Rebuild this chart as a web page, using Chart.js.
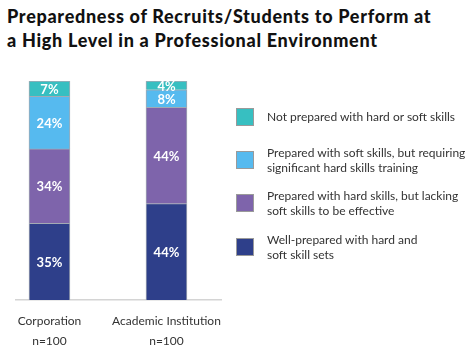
<!DOCTYPE html>
<html><head><meta charset="utf-8">
<script src="https://cdn.jsdelivr.net/npm/chart.js@4"></script>
<style>
html,body{margin:0;padding:0;background:#fff;}
#wrap{position:relative;width:474px;height:345px;overflow:hidden;}
#title{position:absolute;left:7px;top:4px;font-family:Lato,sans-serif;font-weight:900;font-size:18px;letter-spacing:0.7px;line-height:24px;color:#111;white-space:nowrap;}
#c{position:absolute;left:0;top:0;}
#legend{position:absolute;left:236px;top:95px;font-family:Lato,sans-serif;font-size:12px;line-height:15px;color:#333;}
.item{height:43.3px;display:flex;align-items:center;white-space:nowrap;}
.sw{width:18px;height:18px;border:1px solid #9a9a9a;box-sizing:border-box;margin-right:13px;flex:none;}
</style></head>
<body><div id="wrap">
<div id="title">Preparedness of Recruits/Students to Perform at<br>a High Level in a Professional Environment</div>
<canvas id="c" width="474" height="345"></canvas>
<div id="legend"></div>
</div>
<script>
const categories = [['Corporation', 'n=100'], ['Academic Institution', 'n=100']];
const seriesNames = [
  'Well-prepared with hard and\nsoft skill sets',
  'Prepared with hard skills, but lacking\nsoft skills to be effective',
  'Prepared with soft skills, but requiring\nsignificant hard skills training',
  'Not prepared with hard or soft skills'
];
const wellPrepared = [35, 44];
const hardOnly = [34, 44];
const softOnly = [24, 8];
const notPrepared = [7, 4];
const seriesColors = ['#2E3F8A', '#7E64AB', '#56BAEF', '#37BFC1'];

const seriesValues = [wellPrepared, hardOnly, softOnly, notPrepared];
const datasets = seriesValues.map((vals, s) => ({
  label: seriesNames[s],
  data: vals.map((v, i) => ({x: i, y: v})),
  backgroundColor: seriesColors[s],
  borderColor: '#A3AAB4',
  borderWidth: 1,
  barThickness: 41
}));

// HTML legend built from series (top to bottom = reverse stack order)
const legend = document.getElementById('legend');
for (let s = seriesNames.length - 1; s >= 0; s--) {
  const it = document.createElement('div'); it.className = 'item';
  const sw = document.createElement('div'); sw.className = 'sw'; sw.style.background = seriesColors[s];
  const tx = document.createElement('div'); tx.innerHTML = seriesNames[s].replace('\n', '<br>');
  it.appendChild(sw); it.appendChild(tx); legend.appendChild(it);
}

const valueLabels = {
  id: 'valueLabels',
  afterDatasetsDraw(chart) {
    const ctx = chart.ctx;
    ctx.save();
    ctx.fillStyle = '#ffffff';
    ctx.font = 'bold 13px Lato, sans-serif';
    ctx.textAlign = 'center';
    ctx.textBaseline = 'middle';
    chart.data.datasets.forEach((ds, di) => {
      chart.getDatasetMeta(di).data.forEach((el, i) => {
        const v = ds.data[i].y;
        ctx.fillText(v + '%', el.x, (el.y + el.base) / 2 + 1);
      });
    });
    ctx.restore();
  }
};

new Chart(document.getElementById('c'), {
  type: 'bar',
  data: { datasets },
  options: {
    responsive: false,
    animation: false,
    layout: { padding: { top: 81, left: 16, right: 253, bottom: 0 } },
    plugins: { legend: { display: false }, tooltip: { enabled: false } },
    scales: {
      x: {
        type: 'linear', stacked: true, offset: false, min: -0.286, max: 1.466,
        grid: { display: false },
        border: { display: true, color: '#d4d4d4', width: 1.5 },
        afterBuildTicks: (a) => { a.ticks = categories.map((c, i) => ({ value: i })); },
        afterFit: (s) => { s.height = 45; },
        ticks: {
          autoSkip: false, maxRotation: 0, padding: 4, color: '#333',
          font: { family: 'Lato, sans-serif', size: 12, lineHeight: 1.6 },
          callback: (v) => categories[v]
        }
      },
      y: { display: false, stacked: true, min: 0, max: 100 }
    }
  },
  plugins: [valueLabels]
});
</script>
</body></html>
